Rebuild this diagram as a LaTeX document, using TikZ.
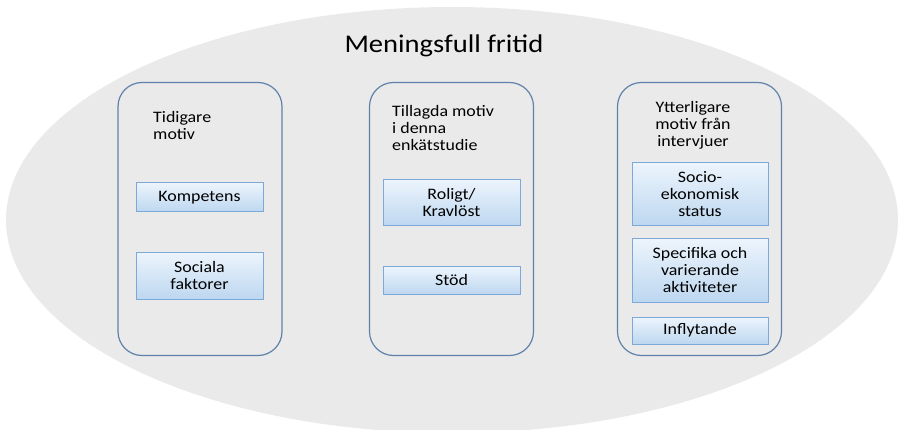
\documentclass[tikz,border=0pt]{standalone}
\usepackage{fontspec}
\setmainfont{Carlito}[FakeStretch=1.12]
\usepackage{tikz}
\definecolor{bggray}{RGB}{234,234,234}
\definecolor{panelblue}{RGB}{96,130,170}
\definecolor{boxborder}{RGB}{125,168,218}
\definecolor{boxtop}{RGB}{236,244,252}
\definecolor{boxbottom}{RGB}{189,215,240}
\tikzset{
  panel/.style={draw=panelblue,line width=1.2pt,rounded corners=24pt,
    minimum width=164pt,minimum height=273pt,inner sep=0pt},
  motivbox/.style={draw=boxborder,line width=1pt,top color=boxtop,bottom color=boxbottom,
    minimum width=#1,inner sep=0pt,align=center,font=\fontsize{16}{17}\selectfont},
  paneltitle/.style={inner sep=0pt,font=\fontsize{16}{17}\selectfont}
}

\begin{document}
\begin{tikzpicture}[x=1pt,y=-1pt]
            \useasboundingbox (0,0) rectangle (899,430);
            \fill[bggray] (452,220) ellipse (446pt and 213pt);
            \node[inner sep=0pt,font=\fontsize{25.5}{30}\selectfont,anchor=base] (title) at (444,53) {Meningsfull fritid};
            % the three columns
            \node[panel] (tidigare) at (200,219) {};
            \node[panel] (tillagda) at (451.5,219) {};
            \node[panel] (ytterligare) at (699.5,219) {};
            \node[paneltitle,align=left,anchor=north west] (t1) at (153,111) {Tidigare\\motiv};
            \node[paneltitle,align=left,anchor=north west] (t2) at (392,105) {Tillagda motiv\\i denna\\enkätstudie};
            \node[paneltitle,align=center,anchor=north] (t3) at (693,101) {Ytterligare\\motiv från\\intervjuer};
            % motive boxes
            \node[motivbox=127pt,minimum height=29pt] (kompetens) at (199.5,197.5) {Kompetens};
            \node[motivbox=127pt,minimum height=46pt] (sociala) at (199.5,276) {Sociala\\faktorer};
            \node[motivbox=137pt,minimum height=46pt] (roligt) at (451.5,203) {Roligt/\\Kravlöst};
            \node[motivbox=137pt,minimum height=27pt] (stod) at (451.5,280.5) {Stöd};
            \node[motivbox=136pt,minimum height=63pt] (socio) at (700,194.5) {Socio-\\ekonomisk\\status};
            \node[motivbox=136pt,minimum height=63pt] (specifika) at (700,270.5) {Specifika och\\varierande\\aktiviteter};
            \node[motivbox=136pt,minimum height=27pt] (inflytande) at (700,330.5) {Inflytande};
        \end{tikzpicture}
\end{document}
